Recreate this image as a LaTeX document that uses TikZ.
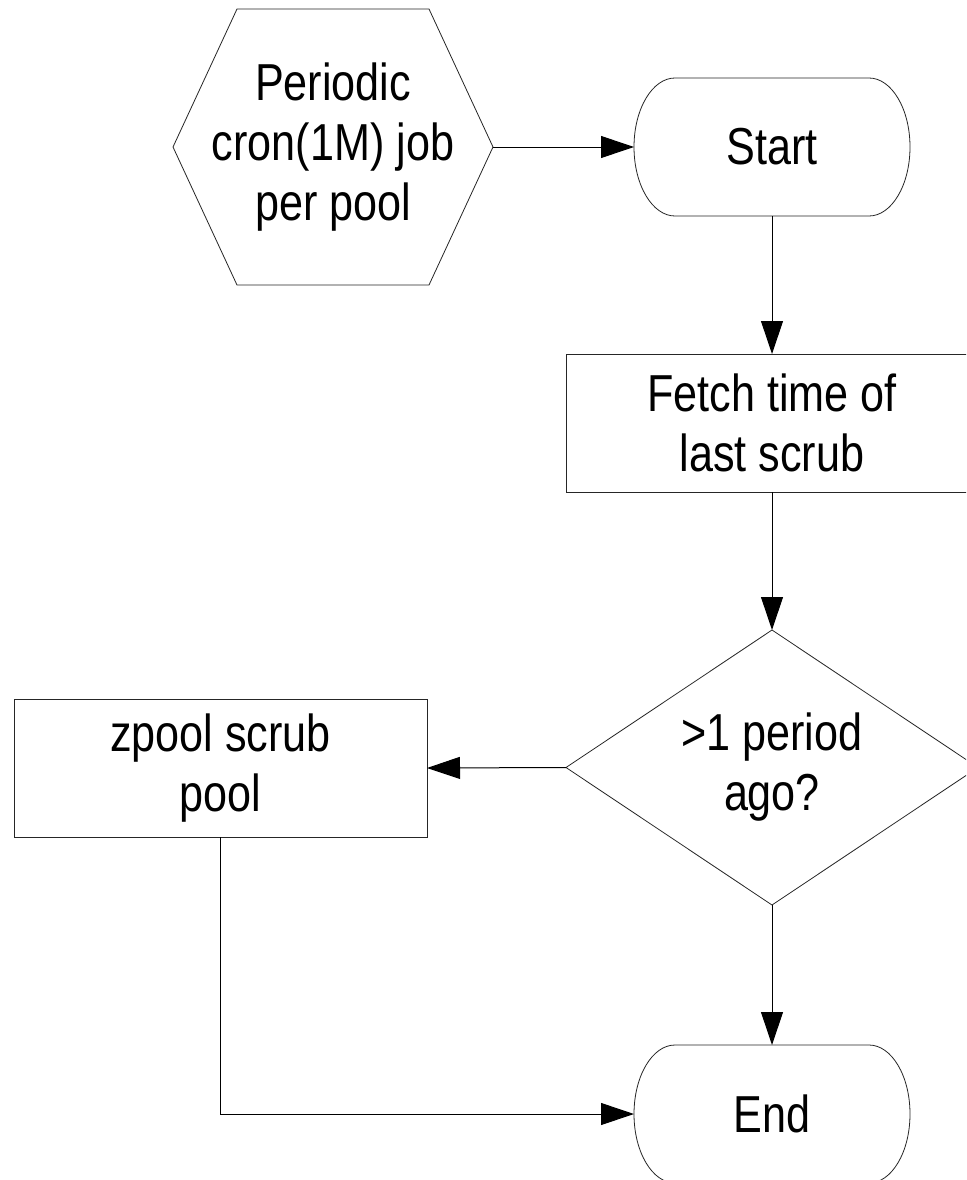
\documentclass[tikz,border=0pt]{standalone}
\usepackage{fontspec}
\setmainfont{Liberation Sans}[FakeStretch=0.83]
\usetikzlibrary{arrows.meta}
\begin{document}
\begin{tikzpicture}[x=1pt,y=1pt,
  txt/.style={align=center,inner sep=0pt,outer sep=0pt,font=\fontsize{52pt}{60pt}\selectfont},
  shapeline/.style={draw=black!85,line width=0.8pt},
  boxnode/.style={txt,shapeline,minimum width=412pt,minimum height=138pt},
  arr/.style={draw=black,line width=1pt,-{Triangle[length=33pt,width=22pt]}},
  conn/.style={draw=black,line width=1pt}]
\path[use as bounding box] (0,0) rectangle (966,-1180);
\clip (0,0) rectangle (966,-1180);
\fill[white] (0,0) rectangle (966,-1180);

% hexagon
\node[txt,minimum width=320pt,minimum height=276pt] (hex) at (333,-147) {Periodic\\cron(1M) job\\per pool};
\draw[shapeline] (hex.west) -- ([xshift=-96pt]hex.north) -- ([xshift=96pt]hex.north) -- (hex.east)
  -- ([xshift=96pt]hex.south) -- ([xshift=-96pt]hex.south) -- cycle;

% start terminator
\node[txt,minimum width=276pt,minimum height=138pt] (start) at (772,-147) {Start};
\draw[shapeline] ([xshift=-97pt]start.north) -- ([xshift=97pt]start.north)
  arc[start angle=90,end angle=-90,x radius=41pt,y radius=69pt]
  -- ([xshift=-97pt]start.south)
  arc[start angle=270,end angle=90,x radius=41pt,y radius=69pt] -- cycle;

% fetch box
\node[boxnode] (fetch) at (772,-423) {Fetch time of\\last scrub};

% decision
\node[txt,minimum width=412pt,minimum height=275pt] (dec) at (772,-767.5) {>1 period\\ago?};
\draw[shapeline] (dec.north) -- (dec.east) -- (dec.south) -- (dec.west) -- cycle;

% zpool box
\node[boxnode,minimum width=413pt] (zpool) at (220.5,-768) {zpool scrub\\pool};

% end terminator
\node[txt,minimum width=276pt,minimum height=138pt] (end) at (772,-1114) {End};
\draw[shapeline] ([xshift=-97pt]end.north) -- ([xshift=97pt]end.north)
  arc[start angle=90,end angle=-90,x radius=41pt,y radius=69pt]
  -- ([xshift=-97pt]end.south)
  arc[start angle=270,end angle=90,x radius=41pt,y radius=69pt] -- cycle;

% connectors
\draw[arr] (hex.east) -- (start.west);
\draw[arr] (start.south) -- (fetch.north);
\draw[arr] (fetch.south) -- (dec.north);
\draw[arr] (dec.west) -- (zpool.east);
\draw[arr] (dec.south) -- (end.north);
\draw[arr] (zpool.south) |- (end.west);
\end{tikzpicture}
\end{document}
